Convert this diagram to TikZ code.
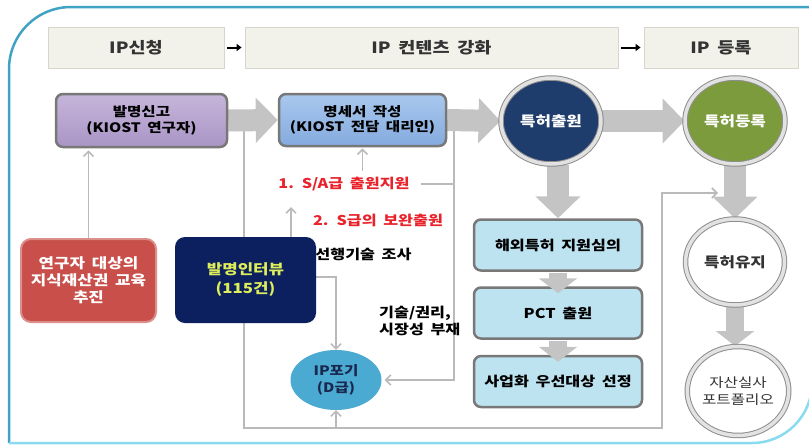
\documentclass[tikz,border=0pt]{standalone}
\usepackage{fontspec}
\setmainfont{Noto Sans CJK KR}[FakeStretch=1.2, WordSpace=1.8]
\usetikzlibrary{arrows.meta,shapes.geometric,backgrounds,calc}
\definecolor{framedark}{HTML}{41A3C4}
\definecolor{framelight}{HTML}{8ADAF0}
\definecolor{hdrfill}{HTML}{F2F1EA}
\definecolor{hdrline}{HTML}{D6D6CC}
\definecolor{hdrtext}{HTML}{333333}
\definecolor{fatg}{HTML}{C4C4C4}
\definecolor{conng}{HTML}{BABABA}
\definecolor{purpleT}{HTML}{C6B5DA}
\definecolor{purpleB}{HTML}{AA95C6}
\definecolor{blueT}{HTML}{A9C8EE}
\definecolor{blueB}{HTML}{84AADE}
\definecolor{boxline}{HTML}{787878}
\definecolor{ringdark}{HTML}{8E8E8E}
\definecolor{ringlight}{HTML}{E2E2E2}
\definecolor{navyc}{HTML}{1E3C6C}
\definecolor{olive}{HTML}{7C9B3D}
\definecolor{lbfill}{HTML}{BDE2F0}
\definecolor{redbox}{HTML}{C84F4A}
\definecolor{redline}{HTML}{DC8E8A}
\definecolor{ivnavy}{HTML}{0C1F5E}
\definecolor{ivtext}{HTML}{DDEE5A}
\definecolor{ipfill}{HTML}{4BAAD1}
\definecolor{iptext}{HTML}{1A2850}
\definecolor{labred}{HTML}{E8232B}
\begin{document}
\begin{tikzpicture}[x=1pt,y=-1pt,
  hdr/.style={rectangle, draw=hdrline, fill=hdrfill, line width=0.8pt, minimum height=41pt, inner sep=0pt, text=hdrtext, font=\bfseries\fontsize{15.5}{18}\selectfont},
  hdrarrow/.style={draw=black, line width=2pt, -{Triangle[length=5pt 0 0,width=7pt 0 0]}, shorten <=3pt, shorten >=3pt},
  pbox/.style={rectangle, rounded corners=7pt, draw=boxline, line width=2.5pt, align=center, inner sep=0pt, font=\bfseries\fontsize{13}{15.5}\selectfont},
  lbox/.style={rectangle, rounded corners=7pt, draw=boxline, line width=2.5pt, fill=lbfill, inner sep=0pt, minimum width=168pt, minimum height=51pt, font=\bfseries\fontsize{13.5}{16}\selectfont},
  circ/.style={ellipse, inner sep=0pt, draw=ringdark, line width=1pt, double=ringlight, double distance=3.5pt, align=center, font=\bfseries\fontsize{14}{16}\selectfont},
  lab/.style={inner sep=0pt, font=\bfseries\fontsize{13.5}{17.5}\selectfont},
  conn/.style={draw=conng, line width=1.6pt},
  carrow/.style={conn, -{Straight Barb[length=5pt,width=10pt]}},
  fat/.style={draw=fatg, line width=22pt, -{Triangle[length=22pt 0 0,width=44pt 0 0]}},
  sfat/.style={draw=fatg, line width=18pt, -{Triangle[length=15pt 0 0,width=38pt 0 0]}}
]
\useasboundingbox (0,0) rectangle (809,445);
% outer frame
\draw[framedark, line width=2.5pt, rounded corners=62pt] (9,443) -- (9,7) -- (840,7);
\draw[framelight, line width=2.5pt, rounded corners=60pt] (812,250) -- (812,443) -- (9,443);

% header
\node[hdr, minimum width=176pt] (h1) at (136,47.5) {IP신청};
\node[hdr, minimum width=373pt] (h2) at (431.5,47.5) {IP 컨텐츠 강화};
\node[hdr, minimum width=154pt] (h3) at (721,47.5) {IP 등록};
\draw[hdrarrow] (h1) -- (h2);
\draw[hdrarrow] (h2) -- (h3);

% main row
\node[pbox, top color=purpleT, bottom color=purpleB, minimum width=171pt, minimum height=53pt] (n1) at (141.5,120.5) {발명신고\\(KIOST 연구자)};
\node[pbox, top color=blueT, bottom color=blueB, minimum width=167pt, minimum height=52pt] (n2) at (362.5,120) {명세서 작성\\(KIOST 전담 대리인)};
\node[circ, fill=navyc, text=white, minimum width=100pt, minimum height=86pt] (c1) at (551,121) {특허출원};
\node[circ, fill=olive, text=white, minimum width=100pt, minimum height=86pt] (c2) at (735,121) {특허등록};

% light blue boxes
\node[lbox] (b1) at (558,245) {해외특허 지원심의};
\node[lbox] (b2) at (558,313) {PCT 출원};
\node[lbox] (b3) at (558,381.5) {사업화 우선대상 선정};

% white circles
\node[circ, fill=white, text=black!80, minimum width=99pt, minimum height=86pt] (c3) at (735,262) {특허유지};
\node[circ, fill=white, text=black!80, minimum width=98pt, minimum height=89pt, font=\fontsize{13}{17}\selectfont] (c4) at (738,391) {자산실사\\포트폴리오};

% left side
\node[rectangle, rounded corners=10pt, draw=redline, line width=2pt, fill=redbox, text=white, align=center, inner sep=0pt, minimum width=135pt, minimum height=83pt, font=\bfseries\fontsize{14}{17}\selectfont] (r) at (88.5,280.5) {연구자 대상의\\지식재산권 교육\\추진};
\node[rectangle, rounded corners=10pt, fill=ivnavy, text=ivtext, align=center, inner sep=0pt, minimum width=141pt, minimum height=86pt, font=\bfseries\fontsize{14}{19}\selectfont] (iv) at (245.5,280) {발명인터뷰\\(115건)};
\node[ellipse, fill=ipfill, text=iptext, align=center, inner sep=0pt, minimum width=91pt, minimum height=60pt, font=\bfseries\fontsize{13}{17}\selectfont] (ip) at (336,380) {IP포기\\(D급)};

% labels
\node[lab, text=labred] (l1) at (344,184) {1. S/A급 출원지원};
\node[lab, text=labred] (l2) at (378,220) {2. S급의 보완출원};
\node[lab, text=black] (l3) at (363.5,254) {선행기술 조사};
\node[lab, text=black, align=left, anchor=west] (l4) at (379,321) {기술/권리,\\시장성 부재};

% coordinates for junctions
\coordinate (j1) at (244,125);
\coordinate (j2) at (454,125);
\coordinate (bot) at (662,428);
\coordinate (tip) at (718,193);
\coordinate (ivt) at (291,237);
\coordinate (ivtip) at (291,207);
\coordinate (ivr) at ($(iv.east)+(0,-3)$);

\begin{scope}[on background layer]
  % thin connectors
  \draw[carrow] (j1) |- (bot) |- (tip);
  \draw[carrow] (ip.south |- bot) -- (ip.south);
  \draw[carrow] (ivr) -| (ip.north);
  \draw[carrow] (ivt) -- (ivtip);
  \draw[carrow, shorten <=6pt, shorten >=1pt] (n2.south |- l1.north) -- (n2.south);
  \draw[carrow, shorten >=3pt] (j2) |- (ip.east);
  \draw[conn, shorten <=11pt] (l1.east) -- (l1.east -| j2);
  \draw[carrow, shorten >=2pt] (r.north) -- (r.north |- n1.south);
  % fat arrows
  \draw[fat] (n1.east) -- (n2.west);
  \draw[fat] (n2.east) -- (c1.west);
  \draw[fat] (c1.east) -- (c2.west);
  \draw[fat] (b1.north |- c1.south) -- (b1.north);
  \draw[fat] (c2.south) -- (c3.north);
  \draw[sfat] (c3.south) -- (c3.south |- c4.north);
\end{scope}
% small fat arrows between boxes
\draw[sfat] ([yshift=-1.5pt]b1.south) -- ([yshift=-7pt]b2.north);
\draw[sfat] ([yshift=-1.5pt]b2.south) -- ([yshift=-7pt]b3.north);
\end{tikzpicture}
\end{document}
